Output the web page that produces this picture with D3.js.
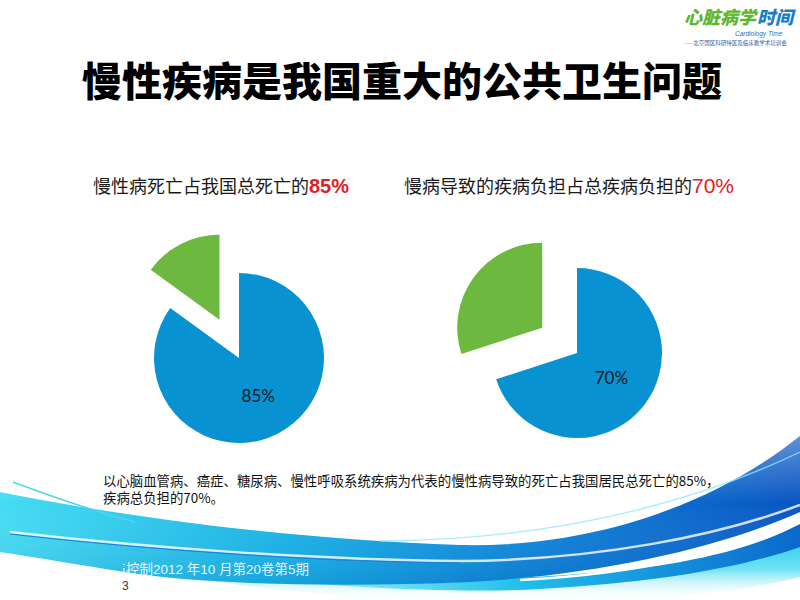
<!DOCTYPE html>
<html>
<head>
<meta charset="utf-8">
<script src="https://cdn.jsdelivr.net/npm/d3@7"></script>
<style>
  html, body { margin: 0; padding: 0; background: #ffffff; }
  svg { display: block; }
</style>
</head>
<body>
<svg id="chart" width="800" height="600"></svg>
<script>
// ---------------- data ----------------
const titleText = "慢性疾病是我国重大的公共卫生问题";
const sliceNames = ["慢性病", "其他"];
const deathShare = [85, 15];      // 慢性病死亡占我国总死亡
const burdenShare = [70, 30];     // 慢病导致的疾病负担占总疾病负担
const pieLabels = ["85%", "70%"];
const subtitleTexts = ["慢性病死亡占我国总死亡的", "慢病导致的疾病负担占总疾病负担的"];
const subtitleValues = ["85%", "70%"];
const noteLines = [
  "以心脑血管病、癌症、糖尿病、慢性呼吸系统疾病为代表的慢性病导致的死亡占我国居民总死亡的85%，",
  "疾病总负担的70%。"
];
const sourceText = "中国慢性病预防与控制2012 年10 月第20卷第5期";
const pageNumber = "3";
const logoParts = ["心脏病学", "时间"];
const logoSub = "Cardiology Time";
const logoLine = "——北京国区科研特区及临床教学术培训会";

// ---------------- drawing ----------------
const svg = d3.select("#chart");
const cjk = "'Noto Sans CJK SC', 'Noto Sans', sans-serif";
const mixed = "'Liberation Sans', 'Noto Sans CJK SC', sans-serif";
const blue = "#0992d2", green = "#6db83e", red = "#e0201f";
const defs = svg.append("defs");

// decorative swoosh gradients
const g1 = defs.append("linearGradient").attr("id", "band1").attr("x1", "0%").attr("x2", "100%").attr("y1", "0%").attr("y2", "0%");
g1.append("stop").attr("offset", "0%").attr("stop-color", "#45dcf2");
g1.append("stop").attr("offset", "35%").attr("stop-color", "#19b4e6");
g1.append("stop").attr("offset", "70%").attr("stop-color", "#0c7fd6");
g1.append("stop").attr("offset", "100%").attr("stop-color", "#0a55c2");
const g1v = defs.append("linearGradient").attr("id", "band1v").attr("x1", "0%").attr("x2", "0%").attr("y1", "0%").attr("y2", "100%");
g1v.append("stop").attr("offset", "0%").attr("stop-color", "#ffffff").attr("stop-opacity", 0.35);
g1v.append("stop").attr("offset", "45%").attr("stop-color", "#ffffff").attr("stop-opacity", 0);
g1v.append("stop").attr("offset", "100%").attr("stop-color", "#003c9e").attr("stop-opacity", 0.15);
const g2 = defs.append("linearGradient").attr("id", "band2").attr("x1", "0%").attr("x2", "0%").attr("y1", "0%").attr("y2", "100%");
g2.append("stop").attr("offset", "0%").attr("stop-color", "#1cc3ea");
g2.append("stop").attr("offset", "55%").attr("stop-color", "#6fe3f4");
g2.append("stop").attr("offset", "100%").attr("stop-color", "#ffffff").attr("stop-opacity", 0);
const g3 = defs.append("linearGradient").attr("id", "band3").attr("x1", "0%").attr("x2", "100%").attr("y1", "0%").attr("y2", "0%");
g3.append("stop").attr("offset", "0%").attr("stop-color", "#3fd9f0").attr("stop-opacity", 0.2);
g3.append("stop").attr("offset", "50%").attr("stop-color", "#1fc0ea");
g3.append("stop").attr("offset", "100%").attr("stop-color", "#0b68cc");
defs.append("clipPath").attr("id", "srcClip")
  .append("rect").attr("x", 123).attr("y", 540).attr("width", 677).attr("height", 60);

const deco = svg.append("g").attr("class", "decoration");
const mainBand = "M0,492 C130,518 300,540 460,545 C600,548 720,500 800,436 L800,512 C720,548 600,575 470,582 C330,588 200,584 125,572 C80,565 40,558 0,552 Z";
// lower faint band
deco.append("path")
  .attr("d", "M180,562 C330,582 470,587 600,577 C700,567 760,547 800,530 L800,577 C720,597 620,603 480,601 C360,599 260,590 180,576 Z")
  .attr("fill", "url(#band2)");
deco.append("path")
  .attr("d", "M240,570 C380,584 520,582 640,568 C720,558 770,540 800,524 L800,547 C740,568 650,584 520,590 C420,592 320,586 240,576 Z")
  .attr("fill", "url(#band3)");
// main band
deco.append("path").attr("d", mainBand).attr("fill", "url(#band1)");
deco.append("path").attr("d", mainBand).attr("fill", "url(#band1v)");
// highlight strokes
deco.append("path").attr("d", "M10,532 C150,548 320,560 460,561 C600,560 720,535 800,505")
  .attr("fill", "none").attr("stroke", "#ffffff").attr("stroke-opacity", 0.8).attr("stroke-width", 2.5);
deco.append("path").attr("d", "M10,534 C150,550 320,562 460,563")
  .attr("fill", "none").attr("stroke", "#1a7fd8").attr("stroke-width", 1);
deco.append("path").attr("d", "M380,541 C560,540 700,500 800,452")
  .attr("fill", "none").attr("stroke", "#8fe8fa").attr("stroke-opacity", 0.8).attr("stroke-width", 1.3);
deco.append("path").attr("d", "M13,482 C50,496 90,510 135,522")
  .attr("fill", "none").attr("stroke", "#4fd6ee").attr("stroke-width", 1.5);
deco.append("path").attr("d", "M520,580 C640,574 740,550 800,522")
  .attr("fill", "none").attr("stroke", "#ffffff").attr("stroke-width", 2.5);

// logo
const logo = svg.append("g").attr("class", "logo");
const l1 = logo.append("text").attr("x", 684).attr("y", 24)
  .attr("font-family", cjk).attr("font-weight", 900).attr("font-style", "italic")
  .attr("font-size", 18).attr("fill", "#5fb631").text(logoParts[0]);
const w1 = l1.node().getComputedTextLength();
logo.append("text").attr("x", 684 + w1 + 1).attr("y", 24)
  .attr("font-family", cjk).attr("font-weight", 900).attr("font-style", "italic")
  .attr("font-size", 18).attr("fill", "#1a7cc8").text(logoParts[1]);
logo.append("text").attr("x", 735).attr("y", 36)
  .attr("font-family", "'Liberation Sans', sans-serif").attr("font-style", "italic")
  .attr("font-size", 6.5).attr("fill", "#2f6fb0").text(logoSub);
logo.append("text").attr("x", 684).attr("y", 45)
  .attr("font-family", cjk).attr("font-size", 5.5).attr("fill", "#1f5fa8")
  .text(logoLine);

// title
svg.append("text").attr("x", 402).attr("y", 96).attr("text-anchor", "middle")
  .attr("font-family", cjk).attr("font-weight", 900).attr("font-size", 40)
  .attr("fill", "#000").text(titleText);

// subtitles
const subX = [93, 404];
subtitleTexts.forEach((t, i) => {
  const tx = svg.append("text").attr("x", subX[i]).attr("y", 193)
    .attr("font-family", cjk).attr("font-size", 18).attr("fill", "#1a1a1a");
  tx.append("tspan").text(t);
  tx.append("tspan")
    .attr("font-family", "'Liberation Sans', Arial, sans-serif")
    .attr("font-weight", i === 0 ? "bold" : "normal")
    .attr("font-size", i === 0 ? 20 : 21)
    .attr("fill", red).text(subtitleValues[i]);
});

// pies
const pie = d3.pie().sort(null).value(d => d);
const radius = 85;
const arc = d3.arc().innerRadius(0).outerRadius(radius);
const explode = 43;
const pies = [
  { data: deathShare, cx: 239, cy: 358, label: pieLabels[0] },
  { data: burdenShare, cx: 577, cy: 353, label: pieLabels[1] }
];
const colors = [blue, green];
pies.forEach(p => {
  const g = svg.append("g").attr("transform", `translate(${p.cx},${p.cy})`);
  const arcs = pie(p.data);
  g.selectAll("path").data(arcs).join("path")
    .attr("d", arc)
    .attr("fill", (d, i) => colors[i])
    .attr("transform", (d, i) => {
      if (i === 0) return null;
      const a = (d.startAngle + d.endAngle) / 2;
      return `translate(${Math.sin(a) * explode},${-Math.cos(a) * explode})`;
    })
    .append("title").text((d, i) => `${sliceNames[i]}: ${d.data}%`);
  const c = arc.centroid(arcs[0]);
  g.append("text").attr("x", c[0]).attr("y", c[1]).attr("text-anchor", "middle")
    .attr("dominant-baseline", "central")
    .attr("font-family", "Lato, 'Open Sans', sans-serif").attr("font-size", 17)
    .attr("fill", "#101820").text(p.label);
});

// note
noteLines.forEach((t, i) => {
  svg.append("text").attr("x", 103).attr("y", 486 + i * 17)
    .attr("font-family", cjk).attr("font-size", 13.4).attr("fill", "#111")
    .text(t);
});

// footer
svg.append("text").attr("x", 18).attr("y", 574)
  .attr("clip-path", "url(#srcClip)")
  .attr("font-family", mixed).attr("font-size", 13.5).attr("fill", "#ffffff").attr("fill-opacity", 0.9)
  .text(sourceText);
svg.append("text").attr("x", 122).attr("y", 590)
  .attr("font-family", "'Liberation Sans', sans-serif").attr("font-size", 12).attr("fill", "#333")
  .text(pageNumber);
</script>
</body>
</html>
